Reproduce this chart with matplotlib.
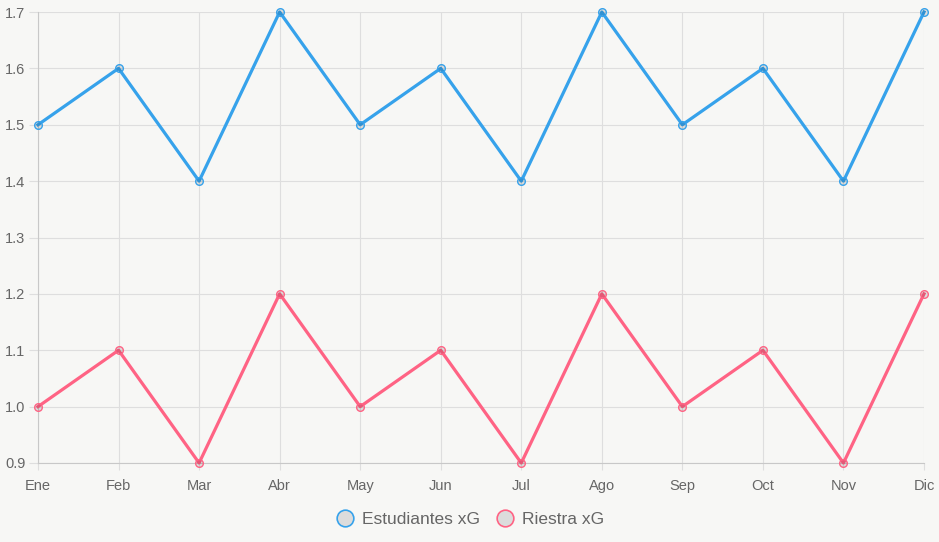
import matplotlib
matplotlib.use("Agg")
import matplotlib.pyplot as plt
from matplotlib.lines import Line2D

months = ["Ene", "Feb", "Mar", "Abr", "May", "Jun", "Jul", "Ago", "Sep", "Oct", "Nov", "Dic"]
estudiantes_xg = [1.5, 1.6, 1.4, 1.7, 1.5, 1.6, 1.4, 1.7, 1.5, 1.6, 1.4, 1.7]
riestra_xg = [1.0, 1.1, 0.9, 1.2, 1.0, 1.1, 0.9, 1.2, 1.0, 1.1, 0.9, 1.2]
y_ticks = [0.9, 1.0, 1.1, 1.2, 1.3, 1.4, 1.5, 1.6, 1.7]

BG = "#f7f7f5"
BLUE = "#36a2eb"
PINK = "#ff6384"
TXT = "#666666"

plt.rcParams["font.family"] = ["Liberation Sans", "DejaVu Sans"]

fig = plt.figure(figsize=(9.39, 5.42), dpi=100, facecolor=BG)
ax = fig.add_axes([38 / 939, 1 - 463 / 542, 886 / 939, 451 / 542])
ax.set_facecolor(BG)

x = list(range(len(months)))
series = [("Estudiantes xG", estudiantes_xg, BLUE), ("Riestra xG", riestra_xg, PINK)]
for label, vals, col in series:
    ax.plot(x, vals, color=col, lw=2.3, zorder=3, clip_on=False)
    ax.plot(x, vals, ls="none", marker="o", ms=5.5, mfc=(0, 0, 0, 0.1),
            mec=col, mew=1.0, zorder=4, clip_on=False)

ax.set_xlim(0, len(months) - 1)
ax.set_ylim(0.9, 1.7)
ax.set_xticks(x)
ax.set_xticklabels(months)
ax.set_yticks(y_ticks)
ax.set_yticklabels([f"{v:.1f}" for v in y_ticks])
ax.grid(True, color="#dedede", lw=0.8, zorder=0)
ax.tick_params(colors="#dedede", labelcolor=TXT, labelsize=10.5, width=0.8)
ax.tick_params(axis="x", length=5, pad=6.5)
ax.tick_params(axis="y", length=6.5, pad=2.5)
for s in ["top", "right"]:
    ax.spines[s].set_visible(False)
for s in ["left", "bottom"]:
    ax.spines[s].set_color("#c8c8c8")
    ax.spines[s].set_linewidth(0.8)

handles = [Line2D([], [], ls="none", marker="o", ms=12, mfc="#dcdcdc", mec=c, mew=1.2)
           for _, _, c in series]
fig.legend(handles, [s[0] for s in series], loc="center", bbox_to_anchor=(0.5, 1 - 519 / 542),
           ncol=2, frameon=False, fontsize=12.5, labelcolor=TXT, handletextpad=0.4,
           columnspacing=0.8, handlelength=1.2)

fig.savefig("out.png", dpi=100, facecolor=BG)
